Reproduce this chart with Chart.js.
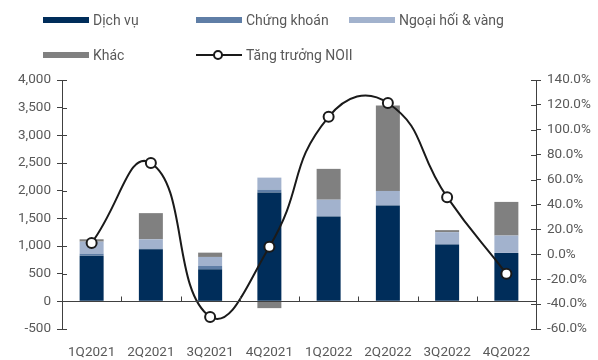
<!DOCTYPE html>
<html>
<head>
<meta charset="utf-8">
<script src="https://cdn.jsdelivr.net/npm/chart.js@4/dist/chart.umd.min.js"></script>
<style>
  html, body { margin: 0; padding: 0; background: #fff; }
  #wrap { position: relative; width: 598px; height: 360px; }
  #legend { position: absolute; left: 0; top: 0; width: 598px; height: 70px; font-family: Roboto, "Noto Sans", sans-serif; font-size: 14px; color: #595959; }
  .li { position: absolute; height: 20px; display: flex; align-items: center; white-space: nowrap; }
  .sw { width: 46px; height: 6px; margin-right: 4px; }
  .ln { width: 46px; height: 12px; margin-right: 4px; position: relative; }
</style>
</head>
<body>
<div id="wrap">
  <canvas id="c" width="598" height="360"></canvas>
  <div id="legend"></div>
</div>
<script>
const categories = ['1Q2021','2Q2021','3Q2021','4Q2021','1Q2022','2Q2022','3Q2022','4Q2022'];
const dichVu     = [826, 942, 579, 1969, 1534, 1733, 1025, 875];
const chungKhoan = [35, 10, 60, 49, 0, 0, 0, 0];
const ngoaiHoi   = [218, 170, 163, 218, 303, 262, 225, 314];
const khac       = [43, 472, 78, -123, 557, 1542, 37, 608];
const tangTruong = [9.1, 73.3, -50.3, 6.1, 110.4, 121.5, 45.9, -15.6];
const leftTicks  = [-500, 0, 500, 1000, 1500, 2000, 2500, 3000, 3500, 4000];
const rightTicks = [-60, -40, -20, 0, 20, 40, 60, 80, 100, 120, 140];

const AXIS = '#404040';
const TXT = '#595959';
const FONT = { family: 'Roboto, "Noto Sans", sans-serif', size: 13.5 };

const axisDeco = {
  id: 'axisDeco',
  afterDatasetsDraw(chart) {
    const ctx = chart.ctx;
    const x = chart.scales.x, y = chart.scales.y, y1 = chart.scales.y1;
    ctx.save();
    ctx.strokeStyle = AXIS;
    ctx.lineWidth = 1;
    const zy = Math.round(y.getPixelForValue(0)) + 0.5;
    ctx.beginPath();
    ctx.moveTo(chart.chartArea.left, zy);
    ctx.lineTo(chart.chartArea.right, zy);
    ctx.stroke();
    const n = categories.length;
    for (let i = 1; i < n; i++) {
      const px = Math.round((x.getPixelForTick(i - 1) + x.getPixelForTick(i)) / 2) + 0.5;
      ctx.beginPath();
      ctx.moveTo(px, zy);
      ctx.lineTo(px, zy - 5);
      ctx.stroke();
    }
    y.ticks.forEach((t, i) => {
      const py = Math.round(y.getPixelForTick(i)) + 0.5;
      ctx.beginPath(); ctx.moveTo(y.right, py); ctx.lineTo(y.right + 5, py); ctx.stroke();
    });
    y1.ticks.forEach((t, i) => {
      const py = Math.round(y1.getPixelForTick(i)) + 0.5;
      ctx.beginPath(); ctx.moveTo(y1.left - 5, py); ctx.lineTo(y1.left, py); ctx.stroke();
    });
    ctx.restore();
  }
};

const barColors = ['#002d5a', '#5f7ea6', '#a2b2cd', '#808080'];
const barSeries = [
  ['Dịch vụ', dichVu],
  ['Chứng khoán', chungKhoan],
  ['Ngoại hối & vàng', ngoaiHoi],
  ['Khác', khac]
];

const datasets = barSeries.map((s, i) => ({
  type: 'bar',
  label: s[0],
  data: s[1],
  backgroundColor: barColors[i],
  borderWidth: 0,
  stack: 's',
  yAxisID: 'y',
  order: 1,
  barPercentage: 0.405,
  categoryPercentage: 1
}));
datasets.push({
  type: 'line',
  label: 'Tăng trưởng NOII',
  data: tangTruong,
  yAxisID: 'y1',
  borderColor: '#1a1a1a',
  borderWidth: 2,
  tension: 0.5,
  pointRadius: 5,
  pointBorderWidth: 2,
  pointBackgroundColor: '#ffffff',
  pointBorderColor: '#1a1a1a',
  order: 0,
  fill: false
});

new Chart(document.getElementById('c'), {
  data: { labels: categories, datasets },
  plugins: [axisDeco],
  options: {
    responsive: false,
    animation: false,
    layout: { padding: { top: 80, left: 0, right: 0, bottom: 0 } },
    plugins: { legend: { display: false }, tooltip: { enabled: false } },
    scales: {
      x: {
        stacked: true,
        grid: { display: false },
        border: { display: false },
        ticks: { color: TXT, font: FONT, padding: 8, maxRotation: 0 },
        afterFit(s) { s.height = 31; }
      },
      y: {
        position: 'left',
        stacked: true,
        min: leftTicks[0], max: leftTicks[leftTicks.length - 1],
        afterBuildTicks(s) { s.ticks = leftTicks.map(v => ({ value: v })); },
        ticks: { color: TXT, font: FONT, padding: 6, callback: v => v.toLocaleString('en-US') },
        grid: {
          drawOnChartArea: false,
          tickLength: 5,
          tickColor: AXIS
        },
        border: { display: true, color: AXIS, width: 1 },
        afterFit(s) { s.width = 62; }
      },
      y1: {
        position: 'right',
        min: rightTicks[0], max: rightTicks[rightTicks.length - 1],
        afterBuildTicks(s) { s.ticks = rightTicks.map(v => ({ value: v })); },
        ticks: { color: TXT, font: FONT, padding: 6, callback: v => v.toFixed(1) + '%' },
        grid: { drawOnChartArea: false, tickLength: 5, tickColor: AXIS },
        border: { display: true, color: AXIS, width: 1 },
        afterFit(s) { s.width = 62; }
      }
    }
  }
});

const legend = document.getElementById('legend');
const slots = [[43, 10], [196, 10], [349, 10], [43, 45], [196, 45]];
datasets.forEach((d, i) => {
  const el = document.createElement('div');
  el.className = 'li';
  el.style.left = slots[i][0] + 'px';
  el.style.top = slots[i][1] + 'px';
  if (d.type === 'bar') {
    el.innerHTML = '<div class="sw" style="background:' + d.backgroundColor + '"></div>';
  } else {
    el.innerHTML = '<div class="ln"><div style="position:absolute;left:0;right:0;top:5px;height:2px;background:#1a1a1a"></div>' +
      '<div style="position:absolute;left:17px;top:1px;width:6px;height:6px;border:2px solid #1a1a1a;border-radius:50%;background:#fff"></div></div>';
  }
  const t = document.createElement('span');
  t.textContent = d.label;
  el.appendChild(t);
  legend.appendChild(el);
});
</script>
</body>
</html>
